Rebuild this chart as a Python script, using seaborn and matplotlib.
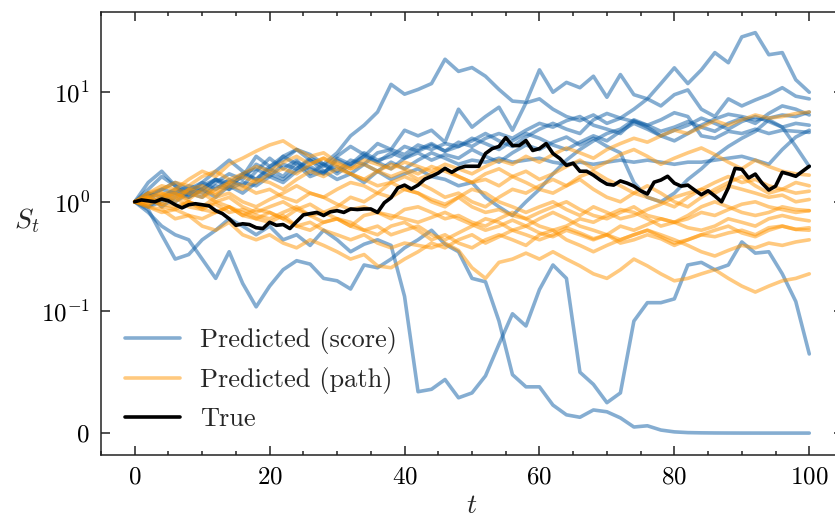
import numpy as np
import pandas as pd
import seaborn as sns
import matplotlib.pyplot as plt
from matplotlib.lines import Line2D
from matplotlib.ticker import MultipleLocator, NullLocator

# time grids: predicted paths read every 2 steps, true path every step
t_coarse = list(range(0, 101, 2))
t_full = list(range(0, 101))

# predicted (score) paths
score_1 = [1.0, 1.15, 1.3, 1.2, 1.4, 1.3, 1.6, 1.5, 1.8, 2.0, 1.7, 2.2, 2.0, 2.5, 2.2, 2.8, 4.0, 5.0, 6.6, 11.8, 9.6,
           10.6, 12, 20, 15.5, 16.8, 14, 10.6, 8.3, 8.1, 16, 10, 12.3, 11, 14, 9, 14.5, 9.5, 8.7, 12, 16.7,
           12, 16, 23, 18.6, 32, 35, 22, 23, 13, 10]
score_2 = [1.0, 1.5, 1.9, 1.4, 1.2, 1.5, 1.3, 1.6, 1.4, 1.9, 2.5, 2.0, 2.4, 1.8, 2.2, 1.9, 2.4, 2.2, 2.8, 3.0, 4.5,
           4.0, 4.5, 3.5, 7.0, 4.8, 6.0, 7.3, 4.5, 8.0, 8.7, 7.0, 6.0, 5.5, 6.2, 5.2, 5.8, 7.0, 8.7, 7.5, 9.5,
           10.5, 7.0, 6.0, 8.7, 7.5, 8.5, 9.5, 11, 9.2, 8.7]
score_3 = [1.0, 1.2, 1.1, 1.3, 1.2, 1.4, 1.6, 1.3, 1.8, 1.6, 2.0, 1.7, 2.3, 2.0, 1.8, 2.5, 2.2, 2.8, 2.4, 2.6, 3.2,
           2.9, 3.3, 2.9, 3.5, 3.2, 3.8, 4.2, 3.8, 4.5, 5.2, 4.8, 5.5, 6.0, 5.0, 4.6, 4.2, 5.5, 4.8, 4.0, 3.6,
           4.2, 5.0, 5.7, 6.3, 6.0, 5.6, 5.8, 6.2, 6.0, 6.6]
score_4 = [1.0, 1.1, 1.3, 1.5, 1.3, 1.2, 1.5, 1.8, 1.6, 2.2, 1.9, 2.6, 3.0, 2.4, 1.9, 2.1, 1.8, 1.5, 1.9, 2.3, 2.0,
           2.4, 2.8, 2.5, 2.2, 2.4, 2.3, 2.5, 2.3, 2.4, 2.5, 2.3, 2.2, 2.3, 2.2, 2.3, 2.4, 2.3, 2.4, 2.3, 2.2,
           2.3, 2.3, 2.4, 2.5, 2.6, 2.4, 2.2, 3.0, 3.9, 4.5]
score_5 = [1.0, 1.3, 1.7, 1.4, 1.1, 1.3, 1.1, 1.4, 1.7, 2.6, 2.1, 2.4, 3.0, 2.7, 2.2, 1.8, 2.2, 2.6, 3.4, 3.0, 2.7,
           3.3, 3.0, 3.4, 3.2, 3.6, 4.2, 3.6, 3.2, 3.9, 4.6, 5.2, 4.6, 4.2, 5.6, 6.4, 5.8, 5.4, 5.0, 5.6, 6.5,
           6.0, 4.0, 3.8, 4.4, 4.2, 4.6, 4.2, 4.5, 4.4, 4.3]
score_6 = [1.0, 0.9, 1.1, 1.0, 1.2, 1.1, 1.4, 1.3, 1.5, 1.4, 1.7, 1.5, 1.9, 2.1, 1.8, 2.4, 2.1, 2.6, 2.3, 2.0, 2.5,
           2.8, 2.4, 2.7, 2.5, 3.0, 2.6, 2.3, 2.8, 3.3, 3.0, 3.5, 3.9, 3.3, 3.8, 3.2, 2.8, 1.5, 1.1, 1.0, 1.2,
           1.6, 2.0, 2.6, 3.2, 3.8, 4.4, 5.6, 4.8, 3.2, 2.1]
score_7 = [1.0, 0.85, 0.5, 0.3, 0.33, 0.45, 0.55, 0.7, 0.6, 0.5, 0.6, 0.45, 0.5, 0.4, 0.55, 0.45, 0.35, 0.41, 0.45, 0.4, 0.137,
           0.034, 0.036, 0.044, 0.029, 0.033, 0.047, 0.073, 0.098, 0.088, 0.158,
           0.265, 0.2, 0.05, 0.04, 0.025, 0.033, 0.092, 0.12, 0.12, 0.13,
           0.265, 0.28, 0.24, 0.265, 0.43, 0.34, 0.35, 0.22, 0.123, 0.065]
score_8 = [1.0, 0.8, 0.6, 0.5, 0.45, 0.3, 0.2, 0.35, 0.18, 0.11, 0.17, 0.24, 0.29, 0.27, 0.2, 0.19, 0.16, 0.265, 0.25, 0.3, 0.38,
           0.45, 0.55, 0.41, 0.35, 0.2, 0.186, 0.092, 0.048, 0.038, 0.038,
           0.023, 0.015, 0.013, 0.019, 0.0175, 0.0125, 0.005, 0.006, 0.0025, 0.001,
           0.0004, 0.0002, 0.0001, 0.00005, 0.00002, 0.00001, 0.0, 0.0, 0.0, 0.0]
score_9 = [1.0, 0.9, 1.0, 1.2, 1.1, 1.3, 1.6, 1.4, 1.2, 1.5, 1.8, 1.6, 2.0, 2.4, 2.1, 2.6, 3.2, 2.7, 2.3, 2.8, 2.5,
           3.0, 3.4, 2.9, 3.2, 3.8, 3.4, 3.0, 3.6, 4.2, 3.8, 3.3, 3.0, 3.5, 4.0, 3.6, 4.4, 5.2, 4.6, 4.0, 4.5,
           5.0, 5.8, 5.2, 4.6, 5.4, 6.0, 5.4, 4.8, 5.2, 5.0]
score_10 = [1.0, 1.2, 0.9, 1.1, 1.3, 1.5, 1.9, 2.4, 1.9, 1.6, 2.1, 2.6, 2.2, 1.7, 1.9, 1.6, 1.8, 2.2, 1.9, 1.6, 1.8,
            2.0, 1.7, 1.6, 1.4, 1.5, 1.1, 0.9, 0.75, 1.0, 1.3, 1.8, 2.4, 3.0, 3.6, 4.2, 4.6, 5.6, 5.0, 4.4, 4.8,
            5.4, 4.8, 4.4, 5.2, 5.8, 5.2, 6.4, 7.5, 7.0, 6.2]

# predicted (path) paths
path_1 = [1.0, 1.1, 1.2, 1.0, 1.3, 1.4, 1.2, 1.5, 1.7, 1.5, 1.8, 2.0, 1.8, 2.2, 2.5, 2.2, 2.0, 2.4, 2.2, 2.0, 2.3,
          2.1, 1.9, 2.2, 2.0, 1.8, 2.1, 2.4, 2.2, 2.6, 2.3, 2.7, 3.1, 2.8, 2.5, 3.0, 3.4, 3.8, 3.5, 4.0, 4.5,
          4.2, 4.8, 5.5, 5.0, 5.6, 6.2, 5.8, 6.0, 6.4, 6.6]
path_2 = [1.0, 1.2, 1.4, 1.3, 1.6, 1.9, 1.7, 2.2, 2.5, 2.9, 3.3, 3.6, 3.0, 2.6, 2.8, 2.3, 2.0, 2.2, 1.9, 1.7, 1.9,
          1.6, 1.8, 2.0, 1.7, 1.5, 1.6, 1.4, 1.7, 1.9, 1.6, 1.8, 2.1, 2.4, 2.0, 2.3, 2.7, 3.0, 2.6, 2.2, 2.5,
          2.8, 3.1, 2.7, 2.3, 2.0, 2.4, 2.1, 1.9, 1.8, 1.75]
path_3 = [1.0, 0.95, 1.1, 1.2, 1.05, 1.3, 1.15, 1.4, 1.3, 1.6, 1.5, 1.3, 1.6, 1.9, 1.7, 2.0, 1.8, 1.6, 1.9, 2.2, 2.0,
          1.8, 2.1, 1.9, 1.7, 1.5, 1.8, 2.0, 1.7, 1.5, 1.3, 1.2, 1.4, 1.6, 1.3, 1.1, 1.0, 1.2, 1.4, 1.2, 1.0,
          0.9, 1.1, 1.3, 1.5, 1.7, 1.4, 1.2, 1.3, 1.5, 1.4]
path_4 = [1.0, 1.1, 0.9, 0.85, 1.0, 0.9, 1.1, 1.2, 1.0, 0.9, 1.05, 1.2, 1.4, 1.2, 1.1, 1.3, 1.5, 1.4, 1.2, 1.5, 1.7,
          1.5, 1.3, 1.1, 1.2, 1.0, 0.9, 1.1, 1.3, 1.2, 1.4, 1.6, 1.4, 1.7, 1.9, 1.6, 1.4, 1.2, 1.1, 1.0, 0.9,
          1.1, 1.3, 1.5, 1.7, 1.5, 1.6, 1.4, 1.3, 1.2, 1.25]
path_5 = [1.0, 1.05, 0.95, 1.1, 0.9, 0.85, 1.0, 0.9, 0.75, 0.85, 0.8, 0.7, 0.85, 0.95, 0.8, 0.9, 1.1, 1.0, 1.2, 1.1, 1.3,
          1.2, 1.0, 0.9, 1.1, 1.3, 1.2, 1.0, 0.9, 0.8, 0.9, 1.0, 0.85, 0.75, 0.9, 0.8, 0.7, 0.75, 0.85, 0.95, 1.1,
          1.2, 1.3, 1.2, 1.4, 1.3, 1.2, 1.1, 1.15, 1.0, 1.05]
path_6 = [1.0, 0.9, 0.8, 0.85, 0.75, 0.7, 0.8, 0.9, 0.8, 0.7, 0.65, 0.75, 0.6, 0.55, 0.65, 0.7, 0.6, 0.75, 0.8, 0.7, 0.85,
          0.9, 0.8, 0.7, 0.75, 0.65, 0.6, 0.7, 0.8, 0.7, 0.6, 0.55, 0.6, 0.7, 0.65, 0.75, 0.85, 0.8, 0.7, 0.6, 0.65,
          0.75, 0.9, 1.0, 0.9, 0.8, 0.75, 0.8, 0.9, 0.85, 0.83]
path_7 = [1.0, 0.9, 0.85, 0.7, 0.75, 0.6, 0.55, 0.65, 0.5, 0.45, 0.5, 0.42, 0.38, 0.45, 0.4, 0.35, 0.3, 0.33, 0.26, 0.25, 0.3,
          0.35, 0.42, 0.38, 0.45, 0.5, 0.42, 0.48, 0.55, 0.5, 0.45, 0.5, 0.58, 0.52, 0.46, 0.5, 0.6, 0.55, 0.62, 0.7, 0.65,
          0.58, 0.55, 0.6, 0.7, 0.65, 0.6, 0.7, 0.75, 0.7, 0.67]
path_8 = [1.0, 1.1, 1.2, 1.1, 1.3, 1.2, 1.0, 1.1, 0.9, 0.8, 0.9, 1.0, 0.85, 0.75, 0.8, 0.7, 0.65, 0.55, 0.6, 0.5, 0.55,
          0.6, 0.5, 0.45, 0.52, 0.6, 0.7, 0.65, 0.55, 0.6, 0.7, 0.8, 0.7, 0.6, 0.55, 0.5, 0.45, 0.5, 0.55, 0.48, 0.42,
          0.45, 0.5, 0.55, 0.6, 0.52, 0.48, 0.55, 0.6, 0.56, 0.58]
path_9 = [1.0, 0.95, 1.05, 1.2, 1.0, 0.9, 0.95, 0.8, 0.85, 0.75, 0.7, 0.8, 0.9, 0.75, 0.65, 0.7, 0.6, 0.55, 0.5, 0.6, 0.65,
          0.55, 0.45, 0.5, 0.42, 0.38, 0.45, 0.5, 0.45, 0.4, 0.5, 0.55, 0.45, 0.4, 0.35, 0.4, 0.45, 0.5, 0.55, 0.5, 0.45,
          0.4, 0.35, 0.32, 0.36, 0.4, 0.38, 0.42, 0.4, 0.43, 0.45]
path_10 = [1.0, 1.1, 0.95, 0.9, 1.0, 0.85, 0.8, 0.9, 0.75, 0.7, 0.8, 0.7, 0.6, 0.65, 0.55, 0.5, 0.45, 0.5, 0.42, 0.38, 0.42,
           0.4, 0.38, 0.42, 0.36, 0.25, 0.2, 0.28, 0.3, 0.34, 0.3, 0.35, 0.3, 0.26, 0.22, 0.2, 0.24, 0.3, 0.26, 0.22, 0.19,
           0.2, 0.22, 0.24, 0.2, 0.17, 0.15, 0.17, 0.19, 0.2, 0.22]
path_11 = [1.0, 1.2, 1.3, 1.5, 1.4, 1.7, 1.9, 1.6, 1.8, 2.1, 1.9, 2.3, 2.6, 2.2, 2.5, 2.1, 1.8, 1.6, 1.4, 1.5, 1.3,
           1.2, 1.05, 0.95, 1.1, 0.9, 0.8, 0.85, 0.75, 0.7, 0.8, 0.9, 1.0, 0.85, 0.75, 0.7, 0.8, 0.9, 0.75, 0.7, 0.65,
           0.7, 0.8, 0.75, 0.85, 0.95, 1.0, 0.9, 0.85, 0.8, 0.83]
path_12 = [1.0, 1.0, 1.15, 1.3, 1.2, 1.1, 1.3, 1.5, 1.4, 1.2, 1.3, 1.1, 1.0, 1.2, 1.1, 0.95, 0.85, 0.9, 0.8, 0.75, 0.7,
           0.65, 0.72, 0.8, 0.7, 0.62, 0.55, 0.6, 0.68, 0.6, 0.52, 0.48, 0.55, 0.5, 0.45, 0.5, 0.42, 0.45, 0.5, 0.46, 0.4,
           0.45, 0.5, 0.48, 0.52, 0.55, 0.5, 0.58, 0.6, 0.56, 0.55]

# true path
true_path = [1.0, 1.04, 1.02, 1.0, 1.06, 1.02, 0.94, 0.88, 0.94, 0.96, 0.94,
             0.92, 0.83, 0.78, 0.70, 0.61, 0.63, 0.62, 0.58, 0.57, 0.65,
             0.61, 0.62, 0.57, 0.66, 0.76, 0.78, 0.80, 0.75, 0.81, 0.83,
             0.80, 0.86, 0.85, 0.86, 0.86, 0.80, 0.98, 1.09, 1.34, 1.42,
             1.31, 1.42, 1.61, 1.71, 1.83, 2.02, 1.86, 2.02, 2.11, 2.11,
             2.11, 2.76, 3.06, 3.20, 3.85, 3.26, 3.26, 3.62, 2.94, 3.06,
             3.40, 2.76, 2.49, 2.15, 2.25, 1.90, 1.90, 1.75, 1.58, 1.45,
             1.42, 1.55, 1.48, 1.39, 1.26, 1.18, 1.51, 1.58, 1.71, 1.48,
             1.39, 1.42, 1.28, 1.16, 1.26, 1.13, 1.00, 1.34, 2.02, 1.98,
             1.65, 1.79, 1.48, 1.28, 1.39, 1.86, 1.79, 1.71, 1.90, 2.11]

score_runs = [score_1, score_2, score_3, score_4, score_5, score_6, score_7, score_8, score_9, score_10]
path_runs = [path_1, path_2, path_3, path_4, path_5, path_6, path_7, path_8, path_9, path_10, path_11, path_12]

labels = ['Predicted (score)', 'Predicted (path)', 'True']
colors = {'Predicted (score)': '#0C5DA5', 'Predicted (path)': '#FF9500'}

frames = []
for i, s in enumerate(score_runs):
    frames.append(pd.DataFrame({'t': t_coarse, 'S': s, 'kind': labels[0], 'run': f'score{i}'}))
for i, s in enumerate(path_runs):
    frames.append(pd.DataFrame({'t': t_coarse, 'S': s, 'kind': labels[1], 'run': f'path{i}'}))
df = pd.concat(frames, ignore_index=True)
df_true = pd.DataFrame({'t': t_full, 'S': true_path})

sns.set_style('ticks')
plt.rcParams['font.family'] = ['cmr10', 'DejaVu Serif']
plt.rcParams['mathtext.fontset'] = 'cm'
plt.rcParams['axes.formatter.use_mathtext'] = True

fig = plt.figure(figsize=(8.35, 5.17), dpi=100)
ax = fig.add_axes([101 / 835, 62 / 517, 742 / 835, 443 / 517])

sns.lineplot(data=df, x='t', y='S', hue='kind', units='run', estimator=None,
             palette=colors, alpha=0.5, lw=2.6, legend=False, ax=ax)
sns.lineplot(data=df_true, x='t', y='S', color='black', lw=2.6, ax=ax)

ax.set_yscale('symlog', linthresh=0.1, linscale=1)
ax.set_ylim(-0.018, 54)
ax.set_xlim(-5, 105)
ax.set_yticks([0, 0.1, 1, 10])
ax.set_yticklabels(['$0$', '$10^{-1}$', '$10^{0}$', '$10^{1}$'])
ax.yaxis.set_minor_locator(NullLocator())
ax.xaxis.set_major_locator(MultipleLocator(20))
ax.xaxis.set_minor_locator(MultipleLocator(5))

ax.tick_params(which='both', direction='in', top=True, right=True, width=1.1, colors='#222222',
               labelcolor='black', labelsize=18, pad=8)
ax.tick_params(which='major', length=6.5)
ax.tick_params(which='minor', length=3.2)
for sp in ax.spines.values():
    sp.set_linewidth(1.1)
    sp.set_color('#222222')

ax.set_xlabel('$t$', fontsize=20, va='center')
ax.xaxis.set_label_coords(0.5, -0.115)
ax.set_ylabel('$S_t$', fontsize=20, rotation=0, va='center', ha='center')
ax.yaxis.set_label_coords(-0.1, 0.53)

handles = [Line2D([], [], color=colors[labels[0]], alpha=0.5, lw=2.6),
           Line2D([], [], color=colors[labels[1]], alpha=0.5, lw=2.6),
           Line2D([], [], color='black', lw=2.6)]
ax.legend(handles, labels, loc='lower left', frameon=False, fontsize=19,
          handlelength=2.1, handletextpad=0.75, labelspacing=0.5)

fig.savefig('out.png', dpi=100)
